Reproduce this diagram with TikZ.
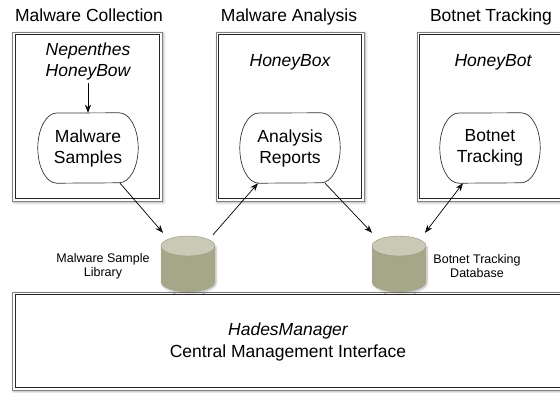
\documentclass[tikz,border=0pt]{standalone}
\usepackage{fontspec}
\setmainfont{Liberation Sans}
\usetikzlibrary{arrows.meta,calc,shadows.blur}
\definecolor{cylbody}{RGB}{166,166,136}
\definecolor{cyltop}{RGB}{201,201,181}
\definecolor{cyledge}{RGB}{150,150,122}
\newcommand\drawcyl[2]{%
  \fill[cylbody, blur shadow={shadow xshift=1pt, shadow yshift=-1pt, shadow blur radius=2pt, shadow opacity=30}]
    ({#1-27},{#2-18}) -- ({#1-27},{#2+18})
    arc[start angle=180, end angle=360, x radius=27pt, y radius=10pt]
    -- ({#1+27},{#2-18}) -- cycle;
  \fill[cyltop, draw=cyledge, line width=0.4pt] (#1,{#2-18}) ellipse [x radius=27pt, y radius=10pt];
}
\begin{document}
\begin{tikzpicture}[x=1pt,y=-1pt,
  panel/.style={draw=black!50, line width=0.7pt, fill=white,
    blur shadow={shadow xshift=1.5pt, shadow yshift=-1.5pt, shadow blur radius=2.5pt, shadow opacity=35}},
  innerline/.style={draw=black!85, line width=0.7pt},
  title/.style={font=\fontsize{17.5}{21}\selectfont, anchor=base, inner sep=0},
  tool/.style={font=\fontsize{17.5}{21}\selectfont\itshape, align=center, inner sep=0},
  store/.style={minimum width=100pt, minimum height=70pt, align=center,
    font=\fontsize{17.5}{21}\selectfont, inner sep=0},
  barrel/.style={draw=black!80, line width=0.7pt},
  cylnode/.style={minimum width=54pt, minimum height=56pt, inner sep=0},
  dblabel/.style={font=\fontsize{12.5}{14}\selectfont, align=center, inner sep=0},
  link/.style={line width=0.7pt, -{Stealth[length=8pt,width=6pt]}},
  twoway/.style={line width=0.7pt, {Stealth[length=8pt,width=6pt]}-{Stealth[length=8pt,width=6pt]}},
]
\useasboundingbox (0,0) rectangle (560,392);
\clip (0,0) rectangle (560,392);

% titles
\node[title] (t1) at (89,21.5) {Malware Collection};
\node[title] (t2) at (289,21.5) {Malware Analysis};
\node[title] (t3) at (491,21.5) {Botnet Tracking};

% panels
\node[panel, minimum width=149.5pt, minimum height=169pt] (p1) at (87.25,116.5) {};
\node[panel, minimum width=148pt, minimum height=169pt] (p2) at (290,116.5) {};
\node[panel, minimum width=148pt, minimum height=169pt] (p3) at (491,116.5) {};
\node[panel, minimum width=551.5pt, minimum height=98pt] (p4) at (288.25,341) {};
\foreach \p in {p1,p2,p3,p4}
  \draw[innerline] ($(\p.north west)+(2.7,2.7)$) rectangle ($(\p.south east)+(-2.7,-2.7)$);

% tools
\node[tool] (nep) at (88,61.5) {Nepenthes\\HoneyBow};
\node[tool, anchor=base] (hbox) at (290,66.5) {HoneyBox};
\node[tool, anchor=base] (hbot) at (493,66.5) {HoneyBot};

% stores
\node[store] (s1) at (88,148) {Malware\\Samples};
\node[store] (s2) at (290,148) {Analysis\\Reports};
\node[store] (s3) at (490,148) {Botnet\\Tracking};
\foreach \s in {s1,s2,s3}
  \draw[barrel] (\s.west)
    arc[start angle=180, end angle=90, x radius=19pt, y radius=35pt]
    -- ($(\s.north east)+(-19,0)$)
    arc[start angle=90, end angle=-90, x radius=19pt, y radius=35pt]
    -- ($(\s.south west)+(19,0)$)
    arc[start angle=270, end angle=180, x radius=19pt, y radius=35pt]
    -- cycle;

% cylinders
\drawcyl{188}{264}
\drawcyl{399}{264}
\node[cylnode] (lib) at (188,264) {};
\node[cylnode] (db) at (399,264) {};
\node[dblabel] (libl) at (103,266) {Malware Sample\\Library};
\node[dblabel] (dbl) at (477,266) {Botnet Tracking\\Database};

% manager
\node[tool, font=\fontsize{17.5}{22}\selectfont] (mgr) at (288,342) {\itshape HadesManager\\Central Management Interface};

% connectors
\draw[link, shorten <=3pt] (nep.south) -- (s1.north);
\draw[link] ($(s1.south)+(32,0)$) -- ($(lib.north)+(-25,-3)$);
\draw[link] ($(lib.north)+(25,-1)$) -- ($(s2.south)+(-32,0)$);
\draw[link] ($(s2.south)+(35,0)$) -- ($(db.north)+(-27,-3)$);
\draw[twoway] ($(s3.south)+(-27,0)$) -- ($(db.north)+(26,-3)$);
\end{tikzpicture}
\end{document}
